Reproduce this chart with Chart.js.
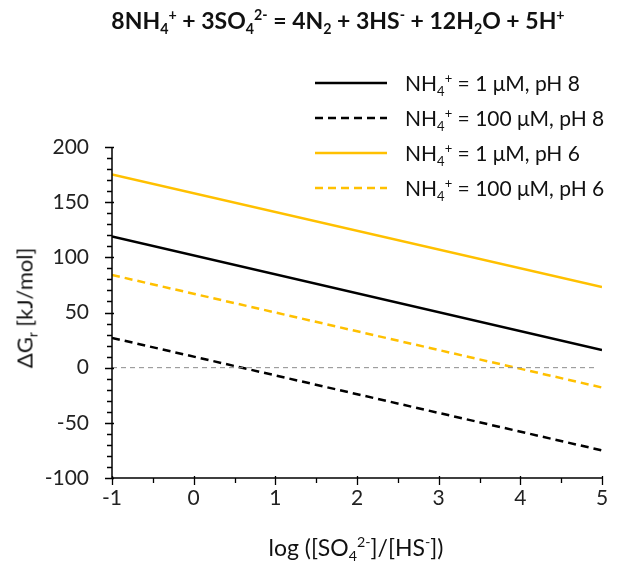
<!DOCTYPE html>
<html>
<head>
<meta charset="utf-8">
<script src="https://cdn.jsdelivr.net/npm/chart.js@4"></script>
<style>
  body { margin: 0; background: #fff; }
  #wrap { position: relative; width: 630px; height: 563px; font-family: Lato, "Open Sans", sans-serif; color: #111; }
  canvas { position: absolute; left: 0; top: 0; }
  .lbl { position: absolute; white-space: nowrap; }
  sub, sup { font-size: 0.62em; line-height: 0; }
  sub { vertical-align: -0.35em; }
  sup { vertical-align: 0.6em; }
  #title { left: 338px; top: 6px; transform: translateX(-50%); font-size: 23px; font-weight: bold; }
  #xtitle { left: 356px; top: 533px; transform: translateX(-50%); font-size: 23px; }
  #ytitle { left: 24px; top: 308px; transform: translate(-50%, -50%) rotate(-90deg); font-size: 22px; }
  .leg { position: absolute; left: 315px; height: 26px; font-size: 21px; }
  .leg svg { position: absolute; left: 0; top: 10px; width: 72px; height: 6px; }
  .leg span { position: absolute; left: 90px; top: 0; white-space: nowrap; line-height: 26px; }
</style>
</head>
<body>
<div id="wrap">
  <canvas id="chart" width="630" height="563"></canvas>
  <div id="title" class="lbl">8NH<sub>4</sub><sup>+</sup> + 3SO<sub>4</sub><sup>2-</sup> = 4N<sub>2</sub> + 3HS<sup>-</sup> + 12H<sub>2</sub>O + 5H<sup>+</sup></div>
  <div id="xtitle" class="lbl">log ([SO<sub>4</sub><sup>2-</sup>]/[HS<sup>-</sup>])</div>
  <div id="ytitle" class="lbl">ΔG<sub>r</sub> [kJ/mol]</div>
  <div id="legend"></div>
</div>
<script>
// x range of the lines (log [SO4]/[HS])
const xEnds = [-1, 5];
// ΔGr values at x = -1 and x = 5
const nh1pH8 = [119, 16];
const nh100pH8 = [27, -75];
const nh1pH6 = [175, 73];
const nh100pH6 = [84, -18];
const zeroLine = [0, 0];

const legendNames = ["1 μM, pH 8", "100 μM, pH 8", "1 μM, pH 6", "100 μM, pH 6"];
const xTicks = [-1, 0, 1, 2, 3, 4, 5];
const yTicks = [-100, -50, 0, 50, 100, 150, 200];

const black = "#000000";
const gold = "#FFC000";

function pts(vals) {
  return xEnds.map((x, i) => ({ x: x, y: vals[i] }));
}

const series = [
  { data: nh1pH8, color: black, dash: [] },
  { data: nh100pH8, color: black, dash: [8, 5] },
  { data: nh1pH6, color: gold, dash: [] },
  { data: nh100pH6, color: gold, dash: [8, 5] },
];

const datasets = series.map((s, i) => ({
  label: legendNames[i],
  data: pts(s.data),
  borderColor: s.color,
  borderWidth: 2.5,
  borderDash: s.dash,
  pointRadius: 0,
  fill: false,
  tension: 0,
}));
datasets.unshift({
  label: "zero",
  data: [{ x: xEnds[0], y: zeroLine[0] }, { x: 4.95, y: zeroLine[1] }],
  borderColor: "#8c8c8c",
  borderWidth: 1,
  borderDash: [5, 4],
  pointRadius: 0,
  fill: false,
});

// html legend with sub/superscripts
const legendEl = document.getElementById("legend");
const legendTops = [70, 105, 140, 175];
series.forEach((s, i) => {
  const d = document.createElement("div");
  d.className = "leg";
  d.style.top = legendTops[i] + "px";
  d.innerHTML = '<svg><line x1="0" y1="3" x2="72" y2="3" stroke="' + s.color +
    '" stroke-width="2.5" stroke-dasharray="' + (s.dash.length ? s.dash.join(",") : "none") + '"/></svg>' +
    '<span>NH<sub>4</sub><sup>+</sup> = ' + legendNames[i] + '</span>';
  legendEl.appendChild(d);
});

// axis lines plus major / minor tick marks
const axisTicks = {
  id: "axisTicks",
  afterDatasetsDraw(chart) {
    const ctx = chart.ctx;
    const xs = chart.scales.x, ys = chart.scales.y;
    const a = chart.chartArea;
    ctx.save();
    ctx.strokeStyle = "#000";
    ctx.lineWidth = 1.5;
    ctx.beginPath();
    ctx.moveTo(a.left, a.top);
    ctx.lineTo(a.left, a.bottom);
    ctx.lineTo(a.right, a.bottom);
    ctx.stroke();
    ctx.lineWidth = 1.3;
    ctx.beginPath();
    for (let v = -100; v <= 200; v += 10) {
      const py = Math.round(ys.getPixelForValue(v)) + 0.5;
      const major = v % 50 === 0;
      ctx.moveTo(a.left - (major ? 7 : 5), py);
      ctx.lineTo(a.left + (major ? 2 : 0), py);
    }
    for (let v = -1; v <= 5; v += 0.5) {
      const px = Math.round(xs.getPixelForValue(v)) + 0.5;
      const major = Number.isInteger(v);
      ctx.moveTo(px, a.bottom - (major ? 2 : 0));
      ctx.lineTo(px, a.bottom + (major ? 7 : 5));
    }
    ctx.stroke();
    ctx.restore();
  }
};

const tickFont = { family: "Lato, 'Open Sans', sans-serif", size: 21 };

new Chart(document.getElementById("chart"), {
  type: "line",
  data: { datasets: datasets },
  options: {
    responsive: false,
    animation: false,
    layout: { padding: { left: 0, top: 147, right: 28, bottom: 0 } },
    plugins: { legend: { display: false }, tooltip: { enabled: false } },
    scales: {
      x: {
        type: "linear",
        min: -1,
        max: 5,
        afterFit: (s) => { s.height = 85; },
        afterBuildTicks: (s) => { s.ticks = xTicks.map(v => ({ value: v })); },
        grid: { display: false, drawTicks: false },
        border: { display: false },
        ticks: { font: tickFont, color: "#222", padding: 8, maxRotation: 0 },
      },
      y: {
        min: -100,
        max: 200,
        afterFit: (s) => { s.width = 112; },
        afterBuildTicks: (s) => { s.ticks = yTicks.map(v => ({ value: v })); },
        grid: { display: false, drawTicks: false },
        border: { display: false },
        ticks: { font: tickFont, color: "#222", padding: 23 },
      },
    },
  },
  plugins: [axisTicks],
});
</script>
</body>
</html>
